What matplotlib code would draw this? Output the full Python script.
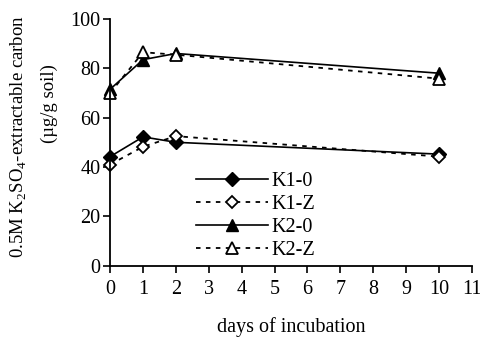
import matplotlib
matplotlib.use("Agg")
import matplotlib.pyplot as plt

# -------------------------
#  DATA
# -------------------------
days = [0, 1, 2, 10]
k1_0 = [44.2, 52.2, 50.0, 45.2]
k1_z = [41.0, 48.2, 52.5, 44.2]
k2_0 = [71.5, 83.5, 86.0, 78.0]
k2_z = [70.0, 86.5, 85.5, 75.8]

x_ticks = list(range(0, 12))
y_ticks = [0, 20, 40, 60, 80, 100]

plt.rcParams['font.family'] = ['Liberation Serif', 'DejaVu Serif']
plt.rcParams['mathtext.fontset'] = 'custom'
plt.rcParams['mathtext.rm'] = 'Liberation Serif'

fig = plt.figure(figsize=(4.81, 3.38), dpi=100)
ax = fig.add_axes([0.229, 0.214, 0.752, 0.73])

dash = (0, (2.5, 3))
ax.plot(days, k1_0, '-', color='black', lw=1.2, marker='D', ms=7,
        mfc='black', mec='black', label='K1-0')
ax.plot(days, k1_z, linestyle=dash, color='black', lw=1.3, marker='D',
        ms=6.5, mfc='white', mec='black', mew=1.3, label='K1-Z')
ax.plot(days, k2_0, '-', color='black', lw=1.2, marker='^', ms=9,
        mfc='black', mec='black', label='K2-0')
ax.plot(days, k2_z, linestyle=dash, color='black', lw=1.3, marker='^',
        ms=9, mfc='white', mec='black', mew=1.3, label='K2-Z')

ax.set_xlim(0, 11)
ax.set_ylim(0, 100)
ax.set_xticks(x_ticks)
ax.set_yticks(y_ticks)
ax.spines['top'].set_visible(False)
ax.spines['right'].set_visible(False)
ax.spines['left'].set_linewidth(1.3)
ax.spines['bottom'].set_linewidth(1.3)
ax.tick_params(direction='out', length=5, width=1.2, labelsize=14.5)
ax.tick_params(axis='x', pad=5)
ax.tick_params(axis='y', pad=2)

ax.set_xlabel('days of incubation', fontsize=14.5, labelpad=13)

# y label drawn as two lines placed separately
fig.text(0.040, 0.595, '0.5M K$_2$SO$_4$-extractable carbon', rotation=90,
         ha='center', va='center', fontsize=13.5)
fig.text(0.102, 0.693, '(µg/g soil)', rotation=90,
         ha='center', va='center', fontsize=13.5)

leg = ax.legend(loc='upper left', bbox_to_anchor=(0.237, 0.38), frameon=False,
                fontsize=14.5, handlelength=3.6, handletextpad=0.15,
                labelspacing=0.2, borderpad=0, borderaxespad=0)
for line in ax.get_lines():
    line.set_clip_on(False)

fig.savefig('out.png', dpi=100)
